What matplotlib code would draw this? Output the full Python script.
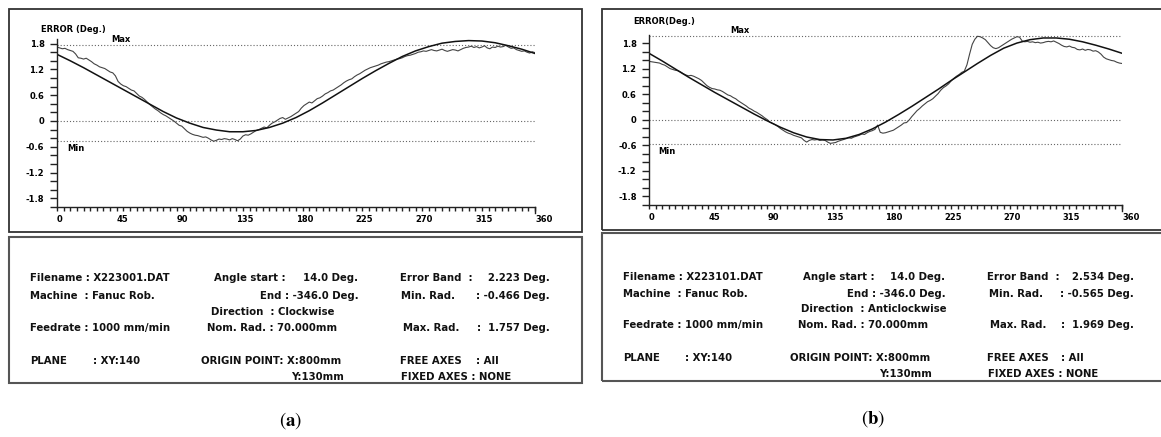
import numpy as np
import matplotlib.pyplot as plt
from matplotlib.patches import Rectangle

# ---------------------------------------------------------
# SETTINGS
# ---------------------------------------------------------
W, H = 1161, 437
TXT_FONT = 'DejaVu Sans'

# ---------------------------------------------------------
# DATA
# ---------------------------------------------------------
x_ticks = [0, 45, 90, 135, 180, 225, 270, 315, 360]
y_ticks = [-1.8, -1.2, -0.6, 0.0, 0.6, 1.2, 1.8]
y_tick_labels = ['-1.8', '-1.2', '-0.6', '0', '0.6', '1.2', '1.8']

fit_deg = list(range(0, 361, 10))
meas_deg = list(range(0, 361, 2))

# (a) clockwise
fit_a = [1.55, 1.40, 1.24, 1.07, 0.90, 0.73, 0.56, 0.39, 0.22, 0.07,
         -0.05, -0.15, -0.21, -0.25, -0.25, -0.22, -0.15, -0.05, 0.08, 0.24,
         0.42, 0.61, 0.80, 0.99, 1.17, 1.34, 1.50, 1.63, 1.73, 1.81,
         1.85, 1.87, 1.86, 1.82, 1.75, 1.67, 1.57]
meas_a = [1.72, 1.70, 1.68, 1.69, 1.66, 1.64, 1.62, 1.56, 1.47, 1.46,
          1.44, 1.46, 1.42, 1.38, 1.33, 1.30, 1.26, 1.24, 1.22, 1.18,
          1.14, 1.12, 1.05, 0.92, 0.86, 0.82, 0.80, 0.76, 0.72, 0.70,
          0.64, 0.58, 0.55, 0.50, 0.44, 0.38, 0.33, 0.28, 0.24, 0.19,
          0.15, 0.12, 0.08, 0.04, 0.00, -0.05, -0.10, -0.12, -0.18, -0.24,
          -0.28, -0.31, -0.33, -0.34, -0.36, -0.38, -0.37, -0.40, -0.44, -0.47,
          -0.45, -0.42, -0.43, -0.41, -0.42, -0.44, -0.41, -0.43, -0.46, -0.42,
          -0.35, -0.32, -0.33, -0.30, -0.26, -0.22, -0.20, -0.17, -0.14, -0.16,
          -0.10, -0.05, -0.02, 0.02, 0.06, 0.08, 0.04, 0.07, 0.10, 0.14,
          0.18, 0.22, 0.30, 0.36, 0.40, 0.44, 0.42, 0.47, 0.52, 0.54,
          0.58, 0.63, 0.66, 0.70, 0.72, 0.76, 0.80, 0.84, 0.89, 0.93,
          0.96, 0.98, 1.03, 1.07, 1.10, 1.14, 1.18, 1.21, 1.24, 1.26,
          1.28, 1.30, 1.33, 1.35, 1.37, 1.38, 1.40, 1.42, 1.44, 1.45,
          1.47, 1.50, 1.52, 1.53, 1.55, 1.57, 1.60, 1.61, 1.63, 1.62,
          1.64, 1.66, 1.64, 1.63, 1.65, 1.67, 1.64, 1.62, 1.64, 1.66,
          1.65, 1.63, 1.66, 1.69, 1.71, 1.72, 1.74, 1.71, 1.73, 1.70,
          1.72, 1.75, 1.70, 1.68, 1.72, 1.71, 1.74, 1.72, 1.73, 1.76,
          1.72, 1.69, 1.70, 1.66, 1.64, 1.62, 1.63, 1.60, 1.58, 1.61,
          1.59]
max_a, min_a = 1.757, -0.466

# (b) anticlockwise
fit_b = [1.57, 1.39, 1.20, 1.01, 0.83, 0.65, 0.48, 0.31, 0.14, -0.02,
         -0.17, -0.30, -0.40, -0.46, -0.47, -0.43, -0.34, -0.21, -0.05, 0.13,
         0.32, 0.52, 0.72, 0.93, 1.13, 1.33, 1.52, 1.69, 1.81, 1.89,
         1.93, 1.93, 1.90, 1.84, 1.76, 1.67, 1.57]
meas_b = [1.38, 1.37, 1.36, 1.35, 1.34, 1.31, 1.29, 1.25, 1.21, 1.19,
          1.17, 1.16, 1.13, 1.09, 1.06, 1.04, 1.05, 1.03, 1.00, 0.97,
          0.93, 0.87, 0.81, 0.77, 0.74, 0.73, 0.71, 0.70, 0.67, 0.63,
          0.59, 0.57, 0.53, 0.50, 0.45, 0.41, 0.37, 0.33, 0.28, 0.25,
          0.21, 0.18, 0.14, 0.10, 0.05, 0.01, -0.05, -0.08, -0.11, -0.15,
          -0.20, -0.24, -0.28, -0.31, -0.33, -0.36, -0.38, -0.40, -0.42, -0.48,
          -0.52, -0.48, -0.46, -0.47, -0.46, -0.48, -0.47, -0.48, -0.52, -0.55,
          -0.54, -0.53, -0.50, -0.48, -0.46, -0.44, -0.42, -0.43, -0.40, -0.38,
          -0.36, -0.33, -0.34, -0.30, -0.27, -0.25, -0.22, -0.12, -0.29, -0.31,
          -0.30, -0.28, -0.26, -0.24, -0.20, -0.16, -0.12, -0.07, -0.06, 0.00,
          0.08, 0.15, 0.22, 0.27, 0.33, 0.38, 0.43, 0.46, 0.50, 0.56,
          0.62, 0.70, 0.76, 0.80, 0.85, 0.92, 0.98, 1.03, 1.07, 1.12,
          1.15, 1.30, 1.55, 1.78, 1.90, 1.97, 1.96, 1.93, 1.89, 1.82,
          1.75, 1.70, 1.68, 1.70, 1.74, 1.78, 1.82, 1.86, 1.90, 1.93,
          1.96, 1.95, 1.86, 1.84, 1.85, 1.83, 1.84, 1.82, 1.83, 1.81,
          1.82, 1.84, 1.85, 1.84, 1.86, 1.83, 1.80, 1.76, 1.73, 1.72,
          1.74, 1.71, 1.70, 1.66, 1.65, 1.67, 1.64, 1.66, 1.65, 1.62,
          1.63, 1.60, 1.55, 1.48, 1.44, 1.42, 1.40, 1.39, 1.36, 1.34,
          1.33]
max_b, min_b = 1.969, -0.565

# text blocks under the plots: (x px, y px, text, ha)
info_a = [
    (30, 278, 'Filename : X223001.DAT', 'left'),
    (214, 278, 'Angle start :', 'left'),
    (358, 278, '14.0 Deg.', 'right'),
    (400, 278, 'Error Band  :', 'left'),
    (550, 278, '2.223 Deg.', 'right'),
    (30, 296, 'Machine  : Fanuc Rob.', 'left'),
    (359, 296, 'End : -346.0 Deg.', 'right'),
    (401, 296, 'Min. Rad.', 'left'),
    (550, 296, ': -0.466 Deg.', 'right'),
    (211, 312, 'Direction  : Clockwise', 'left'),
    (30, 328, 'Feedrate : 1000 mm/min', 'left'),
    (207, 328, 'Nom. Rad. : 70.000mm', 'left'),
    (403, 328, 'Max. Rad.', 'left'),
    (477, 328, ':', 'left'),
    (550, 328, '1.757 Deg.', 'right'),
    (30, 361, 'PLANE', 'left'),
    (93, 361, ': XY:140', 'left'),
    (201, 361, 'ORIGIN POINT: X:800mm', 'left'),
    (400, 361, 'FREE AXES', 'left'),
    (476, 361, ': All', 'left'),
    (344, 377, 'Y:130mm', 'right'),
    (401, 377, 'FIXED AXES : NONE', 'left'),
]
info_b = [
    (623, 277, 'Filename : X223101.DAT', 'left'),
    (803, 277, 'Angle start :', 'left'),
    (945, 277, '14.0 Deg.', 'right'),
    (987, 277, 'Error Band  :', 'left'),
    (1134, 277, '2.534 Deg.', 'right'),
    (623, 294, 'Machine  : Fanuc Rob.', 'left'),
    (946, 294, 'End : -346.0 Deg.', 'right'),
    (989, 294, 'Min. Rad.', 'left'),
    (1134, 294, ': -0.565 Deg.', 'right'),
    (801, 309, 'Direction  : Anticlockwise', 'left'),
    (623, 325, 'Feedrate : 1000 mm/min', 'left'),
    (798, 325, 'Nom. Rad. : 70.000mm', 'left'),
    (990, 325, 'Max. Rad.', 'left'),
    (1061, 325, ':', 'left'),
    (1134, 325, '1.969 Deg.', 'right'),
    (623, 358, 'PLANE', 'left'),
    (685, 358, ': XY:140', 'left'),
    (790, 358, 'ORIGIN POINT: X:800mm', 'left'),
    (987, 358, 'FREE AXES', 'left'),
    (1061, 358, ': All', 'left'),
    (932, 374, 'Y:130mm', 'right'),
    (988, 374, 'FIXED AXES : NONE', 'left'),
]


def fx(x):
    return x / W


def fy(y):
    return 1 - y / H


# ---------------------------------------------------------
# FIGURE
# ---------------------------------------------------------
fig = plt.figure(figsize=(W / 100, H / 100), dpi=100)


def box(x0, y0, x1, y1, color='#333333', lw=1.3):
    fig.add_artist(Rectangle((fx(x0), fy(y1)), fx(x1) - fx(x0), fy(y0) - fy(y1),
                             transform=fig.transFigure, fill=False,
                             edgecolor=color, linewidth=lw))


def draw_panel(ax, fit, meas, vmax, vmin, max_x, min_x, spine_top):
    ax.set_xlim(0, 360)
    ax.set_ylim(-2.0, 2.0)
    ax.patch.set_alpha(0)
    for s in ['top', 'right']:
        ax.spines[s].set_visible(False)
    ax.spines['left'].set_bounds(-2.0, spine_top)
    ax.spines['bottom'].set_bounds(0, 360)
    for s in ['left', 'bottom']:
        ax.spines[s].set_linewidth(1.0)
        ax.spines[s].set_color('#222222')

    # reference lines: Max, zero, Min
    for v in [vmax, 0.0, vmin]:
        ax.plot([0, 360], [v, v], color='#666666', lw=0.8, ls=(0, (1, 1.8)))

    ax.plot(meas_deg, meas, color='#444444', lw=0.8)
    ax.plot(fit_deg, fit, color='#111111', lw=1.1)

    ax.set_yticks(y_ticks)
    ax.set_yticklabels(y_tick_labels)
    ax.set_yticks(np.arange(-2.0, 1.81, 0.2), minor=True)
    ax.set_xticks(x_ticks)
    ax.set_xticks(np.arange(0, 361, 5), minor=True)
    ax.tick_params(axis='y', which='both', direction='out', length=5, width=1,
                   color='#222222', pad=4)
    ax.tick_params(axis='x', which='both', direction='out', length=3, width=1,
                   color='#222222', pad=3)
    for lab in ax.get_xticklabels():
        lab.set_ha('left')
    for lab in ax.get_xticklabels() + ax.get_yticklabels():
        lab.set_fontsize(6)
        lab.set_fontweight('bold')
        lab.set_fontfamily(TXT_FONT)
    # taller end tick at 360
    ax.plot([360, 360], [-2.0, -2.14], color='#222222', lw=1, clip_on=False)

    ax.text(max_x, vmax + 0.14, 'Max', fontsize=6, fontweight='bold',
            family=TXT_FONT, va='center', ha='left')
    ax.text(min_x, vmin - 0.17, 'Min', fontsize=6, fontweight='bold',
            family=TXT_FONT, va='center', ha='left')


# --- (a) ---
box(9, 9, 582, 232)
box(9, 237, 582, 383, color='#555555', lw=1.5)
ax_a = fig.add_axes([fx(57), fy(207), 478 / W, 172 / H])
draw_panel(ax_a, fit_a, meas_a, max_a, min_a, 41, 8, 1.9)
fig.text(fx(41), fy(29), 'ERROR (Deg.)', fontsize=6, fontweight='bold',
         family=TXT_FONT, va='center', ha='left')

# --- (b) ---
box(602, 9, 1163, 230)
box(602, 233, 1163, 381, color='#555555', lw=1.5)
ax_b = fig.add_axes([fx(649), fy(205), 473 / W, 170 / H])
draw_panel(ax_b, fit_b, meas_b, max_b, min_b, 62, 7, 2.0)
fig.text(fx(633), fy(21), 'ERROR(Deg.)', fontsize=6, fontweight='bold',
         family=TXT_FONT, va='center', ha='left')

# info text
for x, y, s, ha in info_a + info_b:
    fig.text(fx(x), fy(y), s, fontsize=7.3, fontweight='bold', family=TXT_FONT,
             va='center', ha=ha, color='#111111')

# captions
fig.text(fx(291), fy(421), r'($\mathbf{a}$)', fontsize=13.5, family='STIXGeneral',
         math_fontfamily='stix', ha='center', va='center')
fig.text(fx(873), fy(419), r'($\mathbf{b}$)', fontsize=13.5, family='STIXGeneral',
         math_fontfamily='stix', ha='center', va='center')

fig.savefig('out.png', dpi=100)
